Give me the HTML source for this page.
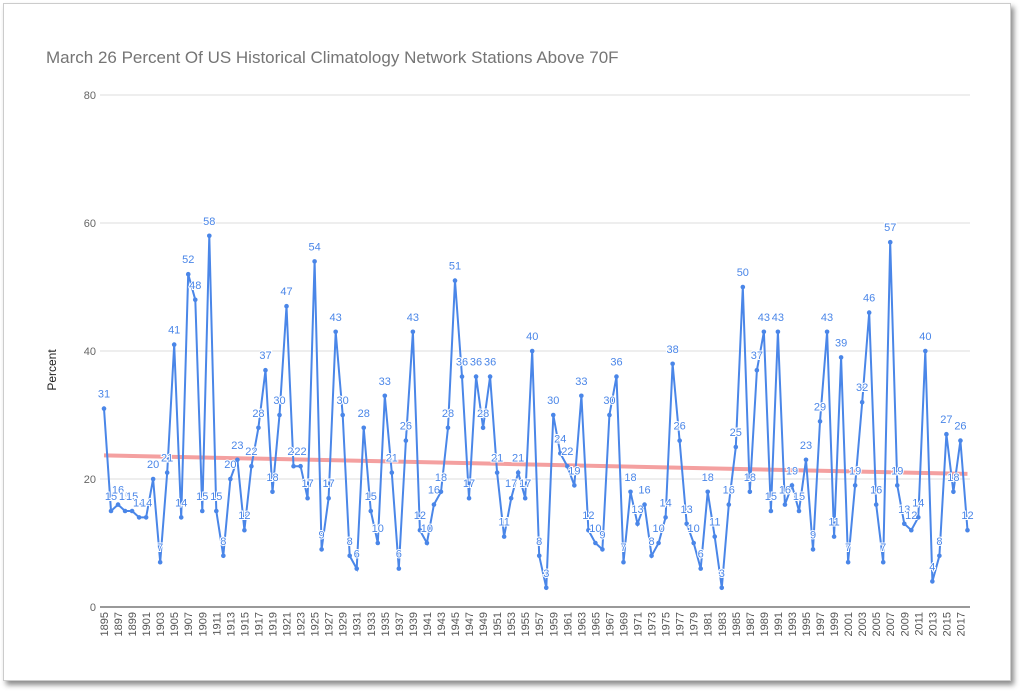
<!DOCTYPE html>
<html><head><meta charset="utf-8"><style>
html,body{margin:0;padding:0;background:#fff;width:1024px;height:691px;overflow:hidden;font-family:"Liberation Sans",Arial,sans-serif}
#card{position:absolute;left:3px;top:3px;width:1006px;height:676px;background:#fff;border:1px solid #ccc;box-shadow:3px 4px 5px rgba(0,0,0,0.45)}
</style></head><body>
<div id="card"></div>
<svg id="s" width="1024" height="691" style="position:absolute;left:0;top:0" xmlns="http://www.w3.org/2000/svg"></svg>
<script>
var v=[31,15,16,15,15,14,14,20,7,21,41,14,52,48,15,58,15,8,20,23,12,22,28,37,18,30,47,22,22,17,54,9,17,43,30,8,6,28,15,10,33,21,6,26,43,12,10,16,18,28,51,36,17,36,28,36,21,11,17,21,17,40,8,3,30,24,22,19,33,12,10,9,30,36,7,18,13,16,8,10,14,38,26,13,10,6,18,11,3,16,25,50,18,37,43,15,43,16,19,15,23,9,29,43,11,39,7,19,32,46,16,7,57,19,13,12,14,40,4,8,27,18,26,12];
var X=function(i){return 104+i*7.02},Y=function(d){return 607-d*6.4};
var h='';
h+='<text x="46" y="63" font-size="17" fill="#757575">March 26 Percent Of US Historical Climatology Network Stations Above 70F</text>';
[0,20,40,60,80].forEach(function(t){var y=Y(t);h+='<line x1="100" x2="970" y1="'+y+'" y2="'+y+'" stroke="'+(t==0?'#333':'#ddd')+'" stroke-width="1"/>';h+='<text x="96" y="'+(y+4)+'" font-size="11" fill="#666" text-anchor="end">'+t+'</text>';});
h+='<text transform="translate(56,370) rotate(-90)" font-size="12" fill="#222" text-anchor="middle">Percent</text>';
for(var i=0;i<v.length;i+=2){var x=X(i)+4;h+='<text transform="translate('+x+',612) rotate(-90)" font-size="11" fill="#555" text-anchor="end">'+(1895+i)+'</text>';}
h+='<line x1="'+X(0)+'" y1="'+Y(23.7)+'" x2="'+X(123)+'" y2="'+Y(20.8)+'" stroke="#f4a0a0" stroke-width="4"/>';
var p='';v.forEach(function(d,i){p+=(i?'L':'M')+X(i).toFixed(1)+' '+Y(d).toFixed(1);});
h+='<path d="'+p+'" fill="none" stroke="#4a86e8" stroke-width="2"/>';
v.forEach(function(d,i){h+='<circle cx="'+X(i)+'" cy="'+Y(d)+'" r="2.3" fill="#4a86e8"/>';h+='<text x="'+X(i)+'" y="'+(Y(d)-11)+'" font-size="11" fill="#4a86e8" text-anchor="middle" stroke="#fff" stroke-width="2" paint-order="stroke">'+d+'</text>';});
document.getElementById('s').innerHTML=h;
</script>
</body></html>
